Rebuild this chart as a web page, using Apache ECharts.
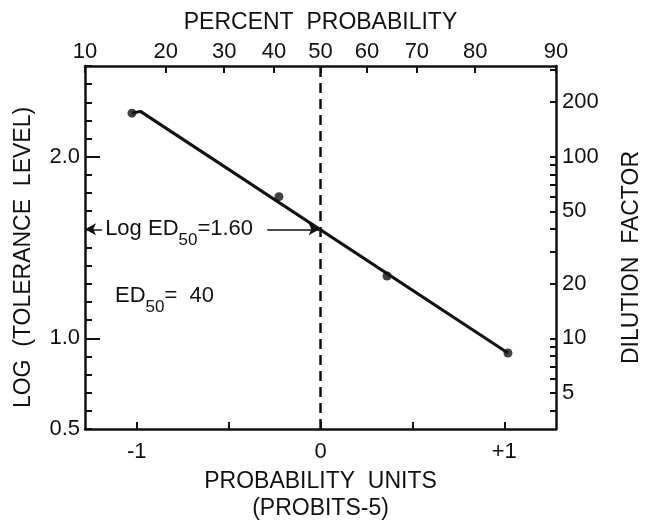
<!DOCTYPE html>
<html>
<head>
<meta charset="utf-8">
<script src="https://cdn.jsdelivr.net/npm/echarts@6/dist/echarts.min.js"></script>
<style>
html,body{margin:0;padding:0;background:#fff;}
#chart{width:645px;height:521px;}
</style>
</head>
<body>
<div id="chart"></div>
<script>
// ---- data ----
const percentTicks = [10, 20, 30, 40, 50, 60, 70, 80, 90];
const percentTickProbits = [-1.2816, -0.8416, -0.5244, -0.2533, 0, 0.2533, 0.5244, 0.8416, 1.2816];
const probitUnitTicks = [-1, -0.5, 0, 0.5, 1];
const probitUnitLabels = [-1, 0, 1];
const logMajorTicks = [1.0, 2.0];
const logLabels = [0.5, 1.0, 2.0];
const dilutionTicks = [4, 5, 6, 7, 8, 9, 10, 20, 30, 40, 50, 60, 70, 80, 90, 100, 200, 300];
const dilutionLabels = [5, 10, 20, 50, 100, 200];
const pointProbits = [-1.026, -0.226, 0.362, 1.020];
const pointLogs = [2.24, 1.78, 1.343, 0.919];
const fitProbits = [-1.026, -0.98, 1.020];
const fitLogs = [2.24, 2.25, 0.919];
const ed50Probit = 0;
const logED50 = 1.60;
const ED50 = 40;

// ---- build ----
const INK = '#111';
const FONT = 'Liberation Sans';
const X_MIN = percentTickProbits[0];
const X_MAX = percentTickProbits[percentTickProbits.length - 1];
const Y_MIN = 0.5, Y_MAX = 2.5;

const points = pointProbits.map((x, i) => [x, pointLogs[i]]);
const fit = fitProbits.map((x, i) => [x, fitLogs[i]]);
const dashed = [[ed50Probit, Y_MIN], [ed50Probit, Y_MAX]];

const axisLineStyle = {color: INK, width: 2.5};
const tickStyle = {color: INK, width: 2};
const labelStyle = {color: INK, fontSize: 22, fontFamily: FONT};
const nameStyle = {color: INK, fontSize: 23, fontFamily: FONT, lineHeight: 27};

const option = {
  animation: false,
  backgroundColor: '#fff',
  textStyle: {fontFamily: FONT},
  grid: {left: 85, right: 89, top: 66, bottom: 92, containLabel: false, outerBoundsMode: 'none'},
  xAxis: [
    {
      type: 'value', position: 'bottom', min: X_MIN, max: X_MAX,
      name: 'PROBABILITY  UNITS\n(PROBITS-5)', nameLocation: 'middle', nameGap: 37,
      nameTextStyle: nameStyle,
      axisLine: {onZero: false, lineStyle: axisLineStyle},
      axisTick: {inside: true, length: 7, customValues: probitUnitTicks, lineStyle: tickStyle},
      axisLabel: Object.assign({customValues: probitUnitLabels, margin: 12,
        formatter: v => v > 0 ? '+' + v : String(v)}, labelStyle),
      splitLine: {show: false}
    },
    {
      type: 'value', position: 'top', min: X_MIN, max: X_MAX,
      name: 'PERCENT  PROBABILITY', nameLocation: 'middle', nameGap: 27,
      nameTextStyle: nameStyle,
      axisLine: {onZero: false, lineStyle: axisLineStyle},
      axisTick: {inside: true, length: 7, customValues: percentTickProbits, lineStyle: tickStyle},
      axisLabel: Object.assign({customValues: percentTickProbits, margin: 3,
        formatter: v => {
          const i = percentTickProbits.findIndex(p => Math.abs(p - v) < 1e-6);
          return i >= 0 ? String(percentTicks[i]) : '';
        }}, labelStyle),
      splitLine: {show: false}
    }
  ],
  yAxis: [
    {
      type: 'value', position: 'left', min: Y_MIN, max: Y_MAX,
      name: 'LOG  (TOLERANCE  LEVEL)', nameLocation: 'middle', nameGap: 48, nameRotate: 90,
      nameTextStyle: Object.assign({padding: [0, 20, 0, 0]}, nameStyle),
      axisLine: {onZero: false, lineStyle: axisLineStyle},
      axisTick: {inside: true, length: 15, customValues: logMajorTicks, lineStyle: tickStyle},
      axisLabel: Object.assign({customValues: logLabels, margin: 5,
        formatter: v => v.toFixed(1)}, labelStyle),
      splitLine: {show: false}
    },
    {
      type: 'value', position: 'right', min: Y_MIN, max: Y_MAX,
      name: 'DILUTION  FACTOR', nameLocation: 'middle', nameGap: 62, nameRotate: 90,
      nameTextStyle: Object.assign({padding: [0, 20, 0, 0]}, nameStyle),
      axisLine: {onZero: false, lineStyle: axisLineStyle},
      axisTick: {inside: true, length: 6, customValues: dilutionTicks.map(Math.log10), lineStyle: tickStyle},
      axisLabel: Object.assign({customValues: dilutionLabels.map(Math.log10), margin: 6,
        formatter: v => String(Math.round(Math.pow(10, v)))}, labelStyle),
      splitLine: {show: false}
    },
    {
      type: 'value', position: 'left', min: Y_MIN, max: Y_MAX, interval: 0.1,
      axisLine: {show: false, onZero: false},
      axisTick: {inside: true, length: 7, lineStyle: tickStyle},
      axisLabel: {show: false},
      splitLine: {show: false}
    }
  ],
  series: [
    {
      type: 'line', data: dashed, symbol: 'none', silent: true,
      lineStyle: {color: INK, width: 2.5, type: [10, 6]}
    },
    {
      type: 'line', data: fit, symbol: 'none', silent: true,
      lineStyle: {color: INK, width: 3}
    },
    {
      type: 'scatter', data: points, symbol: 'circle', symbolSize: 9,
      itemStyle: {color: INK}, silent: true,
      markLine: {
        silent: true, animation: false,
        lineStyle: {color: INK, width: 1.5, type: 'solid'},
        label: {show: false},
        symbolSize: [9, 11],
        data: [
          [{coord: [X_MIN, logED50], symbol: 'arrow'}, {coord: [-1.19, logED50], symbol: 'none'}],
          [{coord: [-0.29, logED50], symbol: 'none'}, {coord: [ed50Probit - 0.005, logED50], symbol: 'arrow'}]
        ]
      },
      markPoint: {
        silent: true, symbol: 'circle', symbolSize: 0,
        label: {
          show: true, position: 'right', distance: 0, color: INK,
          rich: {
            a: {fontSize: 22, fontFamily: FONT, color: INK},
            s: {fontSize: 17, fontFamily: FONT, color: INK, padding: [22, 0, 0, 0]}
          }
        },
        data: [
          {coord: [-1.172, logED50], value: 0,
           label: {formatter: '{a|Log ED}{s|50}{a|=' + logED50.toFixed(2) + '}'}},
          {coord: [-1.118, 1.233], value: 0,
           label: {formatter: '{a|ED}{s|50}{a|=  ' + ED50 + '}'}}
        ]
      }
    }
  ]
};

const chart = echarts.init(document.getElementById('chart'), null, {renderer: 'canvas'});
chart.setOption(option);
</script>
</body>
</html>
